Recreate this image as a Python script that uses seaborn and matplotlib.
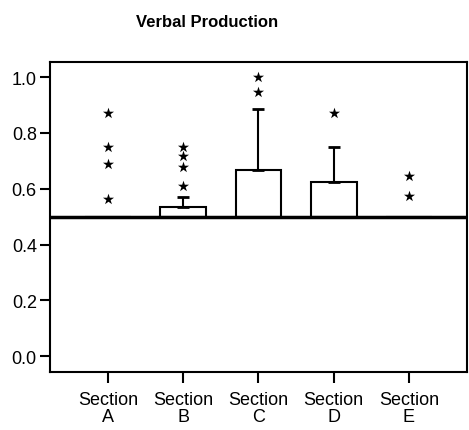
import numpy as np
import pandas as pd
import matplotlib
matplotlib.use("Agg")
import matplotlib.pyplot as plt
import seaborn as sns

# Data
sections = ["Section\nA", "Section\nB", "Section\nC", "Section\nD", "Section\nE"]
means = [0.5, 0.536, 0.667, 0.624, 0.5]
err_top = [np.nan, 0.571, 0.886, 0.749, np.nan]
baseline = 0.5

# asterisk positions (section index, y)
star_sec = [0, 0, 0, 0, 1, 1, 1, 1, 2, 2, 3, 4, 4]
star_y = [0.871, 0.750, 0.687, 0.562, 0.750, 0.717, 0.678, 0.610, 1.0, 0.947, 0.873, 0.644, 0.573]

sns.set_style("ticks", {"axes.edgecolor": "black", "text.color": "black",
                        "xtick.color": "black", "ytick.color": "black",
                        "axes.labelcolor": "black"})
plt.rcParams["font.family"] = ["Liberation Sans", "DejaVu Sans"]

df = pd.DataFrame({"section": sections, "height": np.array(means) - baseline})
stars = pd.DataFrame({"x": star_sec, "y": star_y})

fig = plt.figure(figsize=(4.69, 4.31), dpi=100)
ax = fig.add_axes([0.1066, 0.1346, 0.889, 0.719])

sns.barplot(x="section", y="height", data=df, bottom=baseline, color="white",
            edgecolor="black", linewidth=1.5, width=0.61, ax=ax)

# upper-only error bars
for i, (m, e) in enumerate(zip(means, err_top)):
    if not np.isnan(e):
        ax.errorbar(i, m, yerr=[[0], [e - m]], color="black", lw=1.5, capsize=4, capthick=2)

ax.axhline(baseline, color="black", lw=2.5)

ax.scatter(stars["x"], stars["y"], marker="*", s=70, color="black", linewidths=0, zorder=5)

ax.set_ylim(-0.057, 1.054)
ax.set_xlim(-0.77, 4.77)
ax.set_yticks([0.0, 0.2, 0.4, 0.6, 0.8, 1.0])
ax.set_yticklabels(["0.0", "0.2", "0.4", "0.6", "0.8", "1.0"])
ax.tick_params(axis="y", labelsize=13, length=7.5, width=1.5, direction="out",
               colors="black", pad=2)
ax.tick_params(axis="x", labelsize=13, length=8, width=1.5, direction="out",
               colors="black", pad=6)
for lab in ax.get_xticklabels():
    lab.set_linespacing(0.95)
ax.set_xlabel("")
ax.set_ylabel("")
for sp in ax.spines.values():
    sp.set_visible(True)
    sp.set_linewidth(1.5)
    sp.set_color("black")

fig.text(0.441, 0.947, "Verbal Production", ha="center", va="center",
         fontsize=12, fontweight="bold", color="black")

fig.savefig("out.png", dpi=100)
